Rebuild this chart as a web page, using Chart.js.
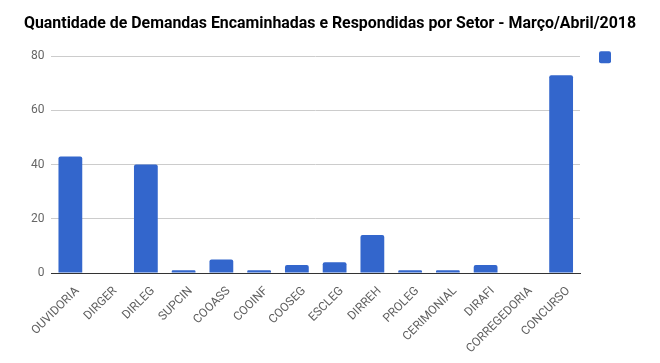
<!DOCTYPE html>
<html lang="pt">
<head>
    <meta charset="UTF-8">
    <title>Demandas por Setor</title>
    <script src="https://cdn.jsdelivr.net/npm/chart.js"></script>
    <style>
        body { margin: 0; background: #fff; }
        #wrap { width: 660px; height: 363px; }
    </style>
</head>
<body>
    <div id="wrap"><canvas id="setorChart"></canvas></div>

    <script>
        var setores = ['OUVIDORIA', 'DIRGER', 'DIRLEG', 'SUPCIN', 'COOASS', 'COOINF', 'COOSEG',
            'ESCLEG', 'DIRREH', 'PROLEG', 'CERIMONIAL', 'DIRAFI', 'CORREGEDORIA', 'CONCURSO'];
        var demandas = [43, 0, 40, 1, 5, 1, 3, 4, 14, 1, 1, 3, 0, 73];
        var ticksY = [0, 20, 40, 60, 80];

        Chart.defaults.font.family = 'Roboto, Arial, sans-serif';

        // legenda: só o quadrado azul, sem texto (como no original)
        var legendaQuadrado = {
            id: 'legendaQuadrado',
            afterDraw: function (chart) {
                var c = chart.ctx, area = chart.chartArea;
                c.save();
                c.fillStyle = chart.data.datasets[0].backgroundColor;
                c.beginPath();
                c.roundRect(area.right + 19, area.top - 5, 12, 12, 2);
                c.fill();
                c.restore();
            }
        };

        var ctx = document.getElementById('setorChart').getContext('2d');
        var setorChart = new Chart(ctx, {
            type: 'bar',
            data: {
                labels: setores,
                datasets: [
                    { label: '', data: demandas, backgroundColor: '#3366cc', borderRadius: 2,
                      categoryPercentage: 0.63, barPercentage: 1 }
                ]
            },
            options: {
                responsive: true,
                maintainAspectRatio: false,
                animation: false,
                layout: { padding: { left: 24, right: 24, top: 0, bottom: 4 } },
                plugins: {
                    title: {
                        display: true,
                        text: 'Quantidade de Demandas Encaminhadas e Respondidas por Setor - Março/Abril/2018',
                        color: '#000',
                        font: { size: 16, weight: 'bold' },
                        padding: { top: 14, bottom: 23 }
                    },
                    legend: { display: false },
                    tooltip: { enabled: false }
                },
                scales: {
                    x: {
                        grid: { display: false },
                        border: { color: '#333', width: 1 },
                        ticks: { color: '#5f5f5f', font: { size: 12 }, maxRotation: 45, minRotation: 45,
                                 autoSkip: false, labelOffset: 7 }
                    },
                    y: {
                        min: 0, max: 80,
                        afterBuildTicks: function (axis) { axis.ticks = ticksY.map(function (v) { return { value: v }; }); },
                        grid: { color: '#cccccc', drawTicks: false },
                        border: { display: false },
                        ticks: { color: '#666', font: { size: 12 }, padding: 7 }
                    },
                    espacoLegenda: {
                        type: 'linear',
                        position: 'right',
                        grid: { display: false },
                        border: { display: false },
                        ticks: { display: false },
                        afterFit: function (axis) { axis.width = 56; }
                    }
                }
            },
            plugins: [legendaQuadrado]
        });
    </script>
</body>
</html>
